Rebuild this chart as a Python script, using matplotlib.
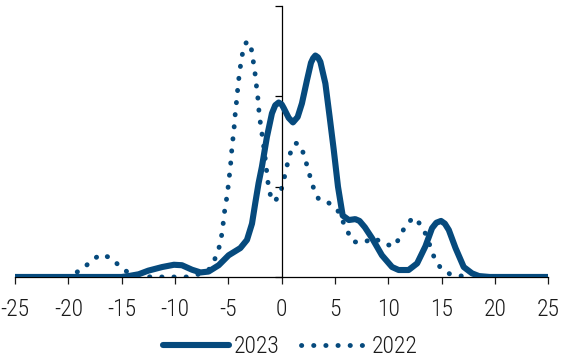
import matplotlib.pyplot as plt

# courbe 2023 (trait plein) : valeurs
x_2023 = [-25, -18, -15, -14.35, -13.4, -12.5, -11.2, -10.1, -9.35, -8.4, -7.6,
          -6.85, -5.9, -4.97, -3.87, -3.25, -2.78, -2.47, -2.16, -1.85, -1.38,
          -0.91, -0.6, -0.28, 0.0, 0.19, 0.66, 1.06, 1.5, 1.9, 2.38, 2.75, 2.95,
          3.16, 3.4, 3.63, 4.1, 4.5, 4.88, 5.28, 5.72, 6.3, 6.9, 7.3, 7.8, 8.47,
          9.4, 10.35, 10.97, 11.9, 12.7, 13.48, 14.1, 14.5, 14.94, 15.3, 15.67,
          16.3, 17.07, 17.85, 18.5, 19.5, 25]
y_2023 = [0, 0, 0, 0.01, 0.03, 0.07, 0.11, 0.135, 0.13, 0.08, 0.05,
          0.06, 0.13, 0.24, 0.32, 0.41, 0.59, 0.82, 1.04, 1.22, 1.55,
          1.81, 1.90, 1.93, 1.91, 1.87, 1.76, 1.71, 1.77, 1.92, 2.18, 2.37, 2.42,
          2.45, 2.43, 2.38, 2.14, 1.77, 1.41, 1.0, 0.68, 0.63, 0.64, 0.62, 0.55, 0.43,
          0.24, 0.11, 0.077, 0.077, 0.15, 0.34, 0.54, 0.60, 0.62, 0.59, 0.52,
          0.32, 0.11, 0.04, 0.01, 0, 0]

# courbe 2022 (pointillés)
x_2022 = [-20.2, -19.6, -18.67, -17.85, -16.95, -15.98, -15.2, -14.35, -13.3,
          -12.2, -11.07, -9.97, -8.9, -7.8, -6.8, -6.29, -5.9, -5.66, -5.5,
          -5.4, -5.22, -5.07, -4.94, -4.81, -4.72, -4.63, -4.5, -4.41, -4.32,
          -4.19, -4.1, -3.97, -3.82, -3.63, -3.4, -3.19, -2.95, -2.78, -2.63,
          -2.47, -2.35, -2.22, -2.13, -2.0, -1.84, -1.69, -1.53, -1.31, -1.15,
          -0.9, -0.66, -0.12, 0.16, 0.40, 0.66, 0.97, 1.3, 1.69, 2.1, 2.38,
          2.69, 3.0, 3.47, 4.41, 5.28, 5.72, 6.19, 6.69, 7.69, 8.63, 9.6, 10.57,
          11.13, 11.6, 12.38, 13.1, 13.6, 13.95, 14.35, 14.9, 15.8, 16.9]
y_2022 = [0, 0.03, 0.085, 0.18, 0.25, 0.21, 0.12, 0.045, 0.01,
          0, 0, 0, 0, 0.03, 0.085, 0.19, 0.31, 0.435, 0.57,
          0.69, 0.82, 0.94, 1.08, 1.21, 1.34, 1.47, 1.59, 1.72, 1.85,
          1.98, 2.11, 2.24, 2.37, 2.50, 2.58, 2.61, 2.57, 2.49, 2.36,
          2.23, 2.10, 1.97, 1.84, 1.71, 1.58, 1.45, 1.30, 1.07, 0.94,
          0.86, 0.83, 0.93, 1.05, 1.18, 1.31, 1.43, 1.48, 1.47, 1.35, 1.23,
          1.10, 0.98, 0.86, 0.82, 0.73, 0.62, 0.50, 0.39, 0.38, 0.435, 0.365, 0.34,
          0.45, 0.57, 0.66, 0.57, 0.45, 0.33, 0.20, 0.10, 0.03, 0.01]

xticks = [-25, -20, -15, -10, -5, 0, 5, 10, 15, 20, 25]
bleu = '#064a7d'

plt.rcParams['font.family'] = ['Liberation Sans Narrow', 'Roboto Condensed',
                               'DejaVu Sans']
plt.rcParams['font.stretch'] = 'condensed'
plt.rcParams['font.weight'] = 'light'

fig = plt.figure(figsize=(5.65, 3.63), dpi=100)
ax = fig.add_axes([0.0265, 0.237, 0.944, 0.747])

ax.plot(x_2023, y_2023, color=bleu, linewidth=4.4, solid_capstyle='round',
        solid_joinstyle='round', label='2023', zorder=3)
ax.plot(x_2022, y_2022, color=bleu, linewidth=3.5, linestyle=(0, (0.05, 2.45)),
        dash_capstyle='round', label='2022', zorder=2)

ax.set_xlim(-25, 25)
ax.set_ylim(0, 3)
ax.set_xticks(xticks)
ax.set_xticklabels([str(t) for t in xticks])
ax.set_yticks([0, 1, 2, 3])
ax.set_yticklabels([])

# axe vertical au centre, axe horizontal en bas
ax.spines['left'].set_position(('data', 0))
ax.spines['right'].set_visible(False)
ax.spines['top'].set_visible(False)
ax.spines['left'].set_linewidth(0.9)
ax.spines['bottom'].set_linewidth(0.9)
ax.tick_params(axis='x', direction='out', length=5, width=0.9, labelsize=17,
               pad=10, colors='#1a1a1a')
ax.tick_params(axis='y', direction='out', length=5, width=0.9)

leg = ax.legend(loc='upper center', bbox_to_anchor=(0.517, -0.135), ncol=2,
                frameon=False, fontsize=17, handlelength=2.8, handletextpad=0.2,
                columnspacing=0.9)
for t in leg.get_texts():
    t.set_color('#1a1a1a')

plt.savefig('out.png', dpi=100)
